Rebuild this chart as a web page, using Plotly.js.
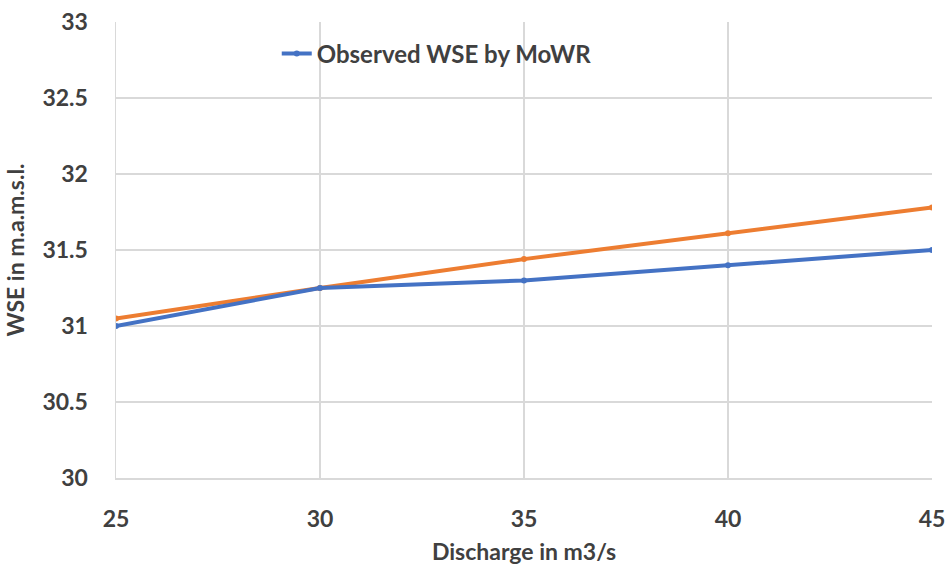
<!DOCTYPE html>
<html>
<head>
<meta charset="utf-8">
<script src="https://cdn.plot.ly/plotly-3.0.1.min.js"></script>
<style>
  html, body { margin: 0; padding: 0; background: #fff; }
  #chart { width: 948px; height: 567px; }
</style>
</head>
<body>
<div id="chart"></div>
<script>
// Discharge (m3/s) and water surface elevation (m a.m.s.l.)
const discharge = [25, 30, 35, 40, 45];
const wseObserved = [31.0, 31.25, 31.3, 31.4, 31.5];
const wseModel = [31.05, 31.25, 31.44, 31.61, 31.78];

const observedName = 'Observed WSE by MoWR';
const xTitle = 'Discharge in m3/s';
const yTitle = 'WSE in m.a.m.s.l.';

const fontFam = 'Lato, "Open Sans", sans-serif';
const textFont = (size) => ({ family: fontFam, size: size, color: '#404040', weight: 'bold' });

const traces = [
  {
    x: discharge, y: wseModel, type: 'scatter', mode: 'lines+markers',
    line: { color: '#ED7D31', width: 4 },
    marker: { color: '#ED7D31', size: 6 },
    showlegend: false
  },
  {
    x: discharge, y: wseObserved, type: 'scatter', mode: 'lines+markers',
    name: observedName,
    line: { color: '#4472C4', width: 4 },
    marker: { color: '#4472C4', size: 6 }
  }
];

const layout = {
  width: 948, height: 567,
  margin: { l: 116, r: 16, t: 22, b: 89 },
  paper_bgcolor: '#fff', plot_bgcolor: '#fff',
  font: { family: fontFam, color: '#404040' },
  showlegend: true,
  legend: {
    x: 0.197, y: 0.93, xanchor: 'left', yanchor: 'middle',
    bgcolor: 'rgba(0,0,0,0)',
    font: textFont(24)
  },
  xaxis: {
    range: [25, 45], dtick: 5, tick0: 25,
    showgrid: true, gridcolor: '#d9d9d9', gridwidth: 1.5,
    showline: true, linecolor: '#d9d9d9', linewidth: 1.5,
    zeroline: false, ticks: '', ticklabelstandoff: 20,
    tickfont: textFont(23),
    title: { text: xTitle, standoff: 13, font: textFont(23) }
  },
  yaxis: {
    range: [30, 33], dtick: 0.5, tick0: 30,
    showgrid: true, gridcolor: '#d9d9d9', gridwidth: 1.5,
    showline: true, linecolor: '#d9d9d9', linewidth: 1.5,
    zeroline: false, ticks: '', ticklabelstandoff: 22,
    tickfont: textFont(23),
    title: { text: yTitle, standoff: 11, font: textFont(23) }
  }
};

Plotly.newPlot('chart', traces, layout, { displayModeBar: false, staticPlot: true });
</script>
</body>
</html>
